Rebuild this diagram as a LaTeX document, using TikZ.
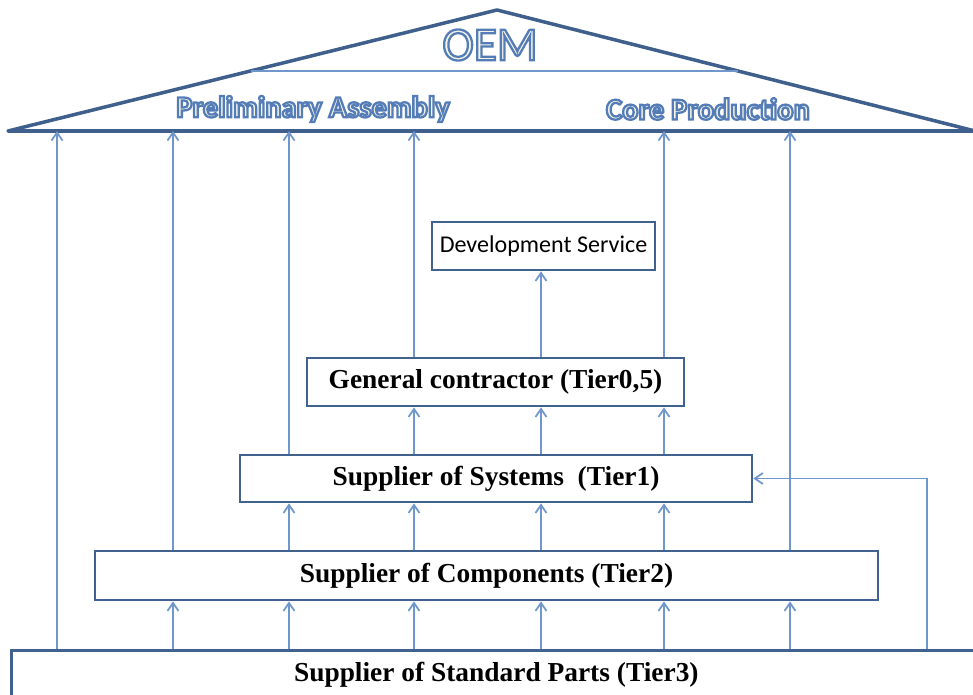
\documentclass[tikz,border=0pt]{standalone}
\usepackage{fontspec}
\setmainfont{Liberation Serif}
\newfontfamily\calib{Carlito}
\usetikzlibrary{calc, arrows.meta, positioning}

\definecolor{frameblue}{HTML}{41628F}
\definecolor{linkblue}{HTML}{6F97CB}
\definecolor{roofblue}{HTML}{3F5F8C}
\definecolor{cream}{HTML}{F6F4E8}

% hollow lettering: cream fill, blue stroke
\newcommand\hollow[1]{{\color{cream}\special{pdf:literal direct 2 Tr 1.3 w 0.33 0.49 0.72 RG}#1\special{pdf:literal direct 0 Tr}}}

\begin{document}
\begin{tikzpicture}[x=0.02cm, y=-0.02cm, >={Straight Barb[length=1.6mm,width=2.2mm]}]
	\tikzstyle{tier} = [draw=frameblue, line width=1.6pt, rectangle, inner sep=0pt, font=\bfseries\fontsize{15.6}{18}\selectfont]
	\tikzstyle{link} = [draw=linkblue, line width=1pt, ->]
	\tikzstyle{roof} = [draw=roofblue, line width=2pt, line join=round]
	\tikzstyle{rooflabel} = [font=\calib\bfseries\fontsize{17.3}{19}\selectfont]
	
	\useasboundingbox (0,0) rectangle (973,695);
	
	% roof of the OEM
	\coordinate (eavesL) at (8,131);
	\coordinate (ridge) at (497,10);
	\coordinate (eavesR) at (975,131);
	\draw[roof] (eavesL) -- (ridge) -- (eavesR) -- cycle;
	\draw[linkblue, line width=1.2pt] ($(eavesL)!0.496!(ridge)$) -- ($(eavesR)!0.496!(ridge)$);
	
	\node[rooflabel, font=\calib\fontsize{27}{30}\selectfont] at (490,45) (oem) {\hollow{OEM}};
	\node[rooflabel] at (313,109) (pre) {\hollow{Preliminary Assembly}};
	\node[rooflabel] at (708,109) (core) {\hollow{Core Production}};
	
	% tiers
	\node[tier, font=\calib\fontsize{13.7}{16}\selectfont, minimum width=4.46cm, minimum height=0.96cm] at (543.5,246) (dev) {Development Service};
	\node[tier, minimum width=7.54cm, minimum height=0.96cm] at (495.5,382) (gc) {General contractor (Tier0,5)};
	\node[tier, minimum width=10.24cm, minimum height=0.94cm] at (496,478.5) (t1) {Supplier of Systems~~(Tier1)};
	\node[tier, minimum width=15.66cm, minimum height=0.98cm] at (486.5,575.5) (t2) {Supplier of Components (Tier2)};
	\node[tier, anchor=north west, minimum width=19.4cm, minimum height=0.96cm] at (10,649) (t3) {Supplier of Standard Parts (Tier3)};
	
	% columns of the arrows
	\foreach \x [count=\i] in {57,173,289,414,541,664,790,927}
		\coordinate (c\i) at (\x,0);
	
	% deliveries into the roof
	\draw[link] (t3.north -| c1) -- (eavesL -| c1);
	\draw[link] (t2.north -| c2) -- (eavesL -| c2);
	\draw[link] (t1.north -| c3) -- (eavesL -| c3);
	\draw[link] (gc.north -| c4) -- (eavesL -| c4);
	\draw[link] (gc.north -| c6) -- (eavesL -| c6);
	\draw[link] (t2.north -| c7) -- (eavesL -| c7);
	
	% deliveries between tiers
	\draw[link] (gc.north -| c5) -- (dev.south -| c5);
	\foreach \c in {c4,c5,c6}
		\draw[link] (t1.north -| \c) -- (gc.south -| \c);
	\foreach \c in {c3,c4,c5,c6}
		\draw[link] (t2.north -| \c) -- (t1.south -| \c);
	\foreach \c in {c2,c3,c4,c5,c6,c7}
		\draw[link] (t3.north -| \c) -- (t2.south -| \c);
	\draw[link] (t3.north -| c8) |- (t1.east);
\end{tikzpicture}
\end{document}
